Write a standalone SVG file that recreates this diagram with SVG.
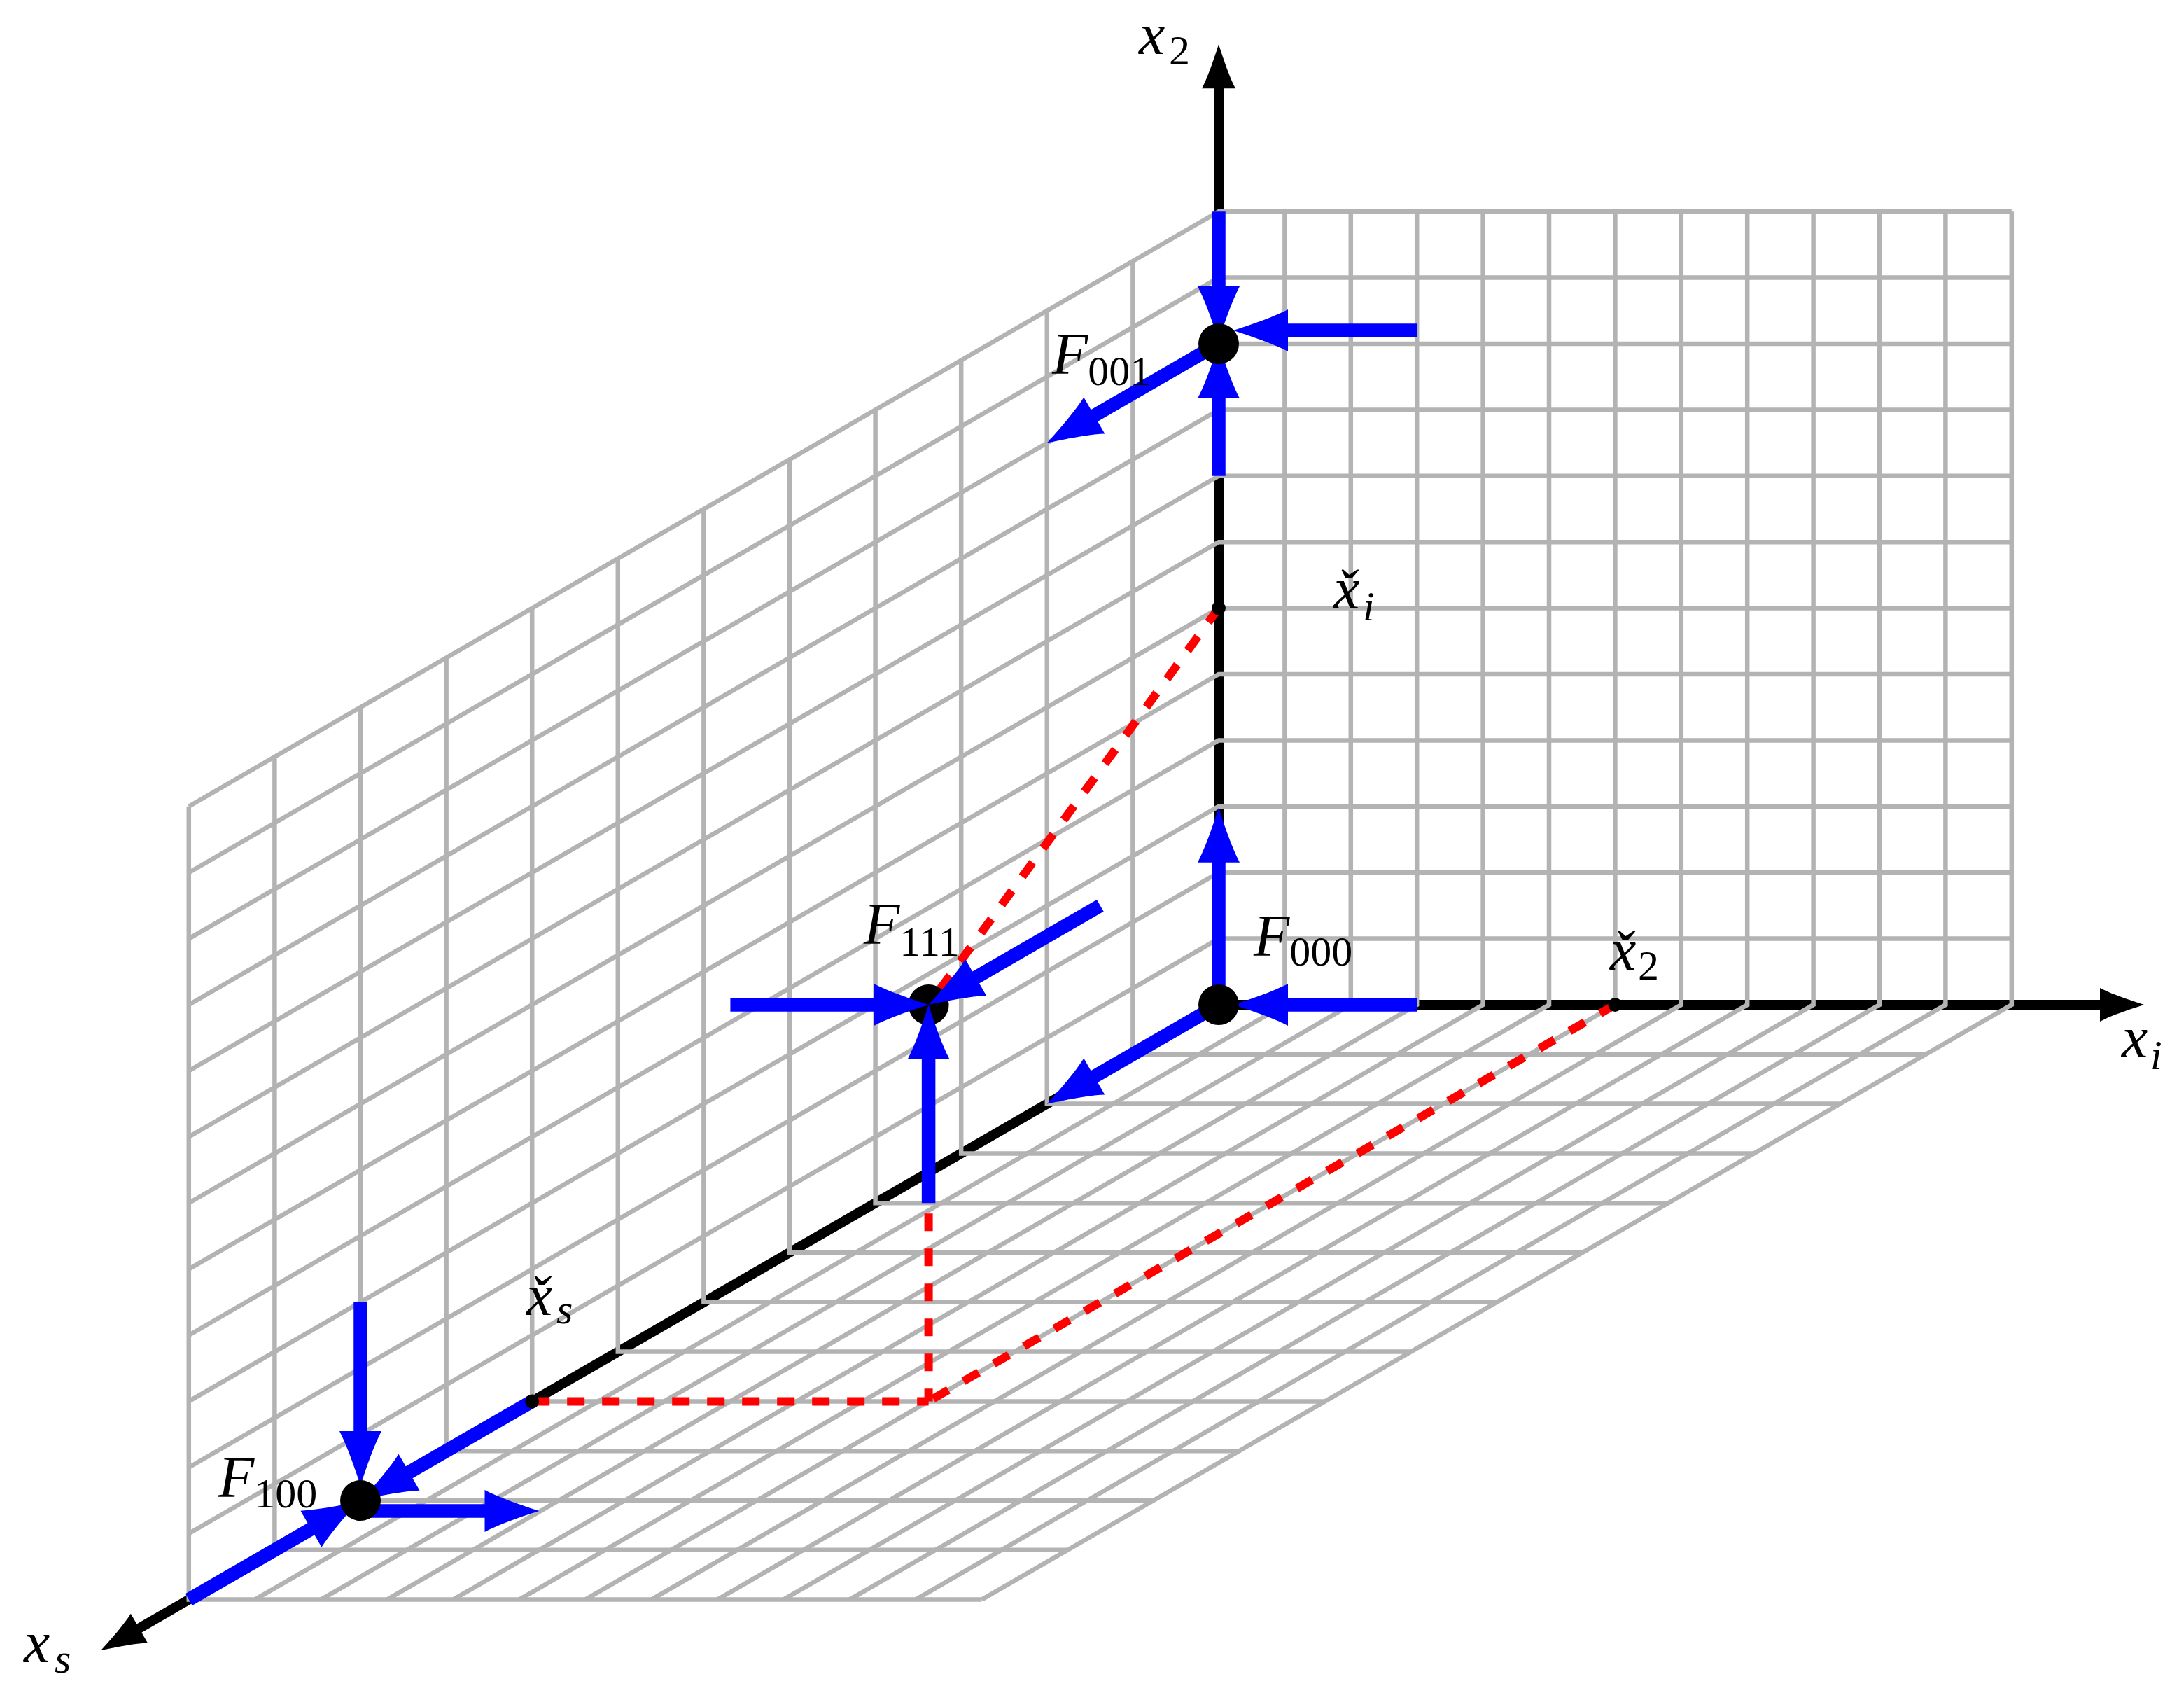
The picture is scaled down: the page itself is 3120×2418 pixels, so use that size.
<svg xmlns="http://www.w3.org/2000/svg" width="3120" height="2418" viewBox="0 0 3120 2418">
<defs>
<style>
.grid{fill:none;stroke:#b3b3b3;stroke-width:6.5}
.axis{fill:none;stroke:#000;stroke-width:14;marker-end:url(#kh)}
.guide{fill:none;stroke:#f00;stroke-width:12;stroke-dasharray:25 25}
.arr{fill:none;stroke:#00f;stroke-width:19.5;marker-end:url(#bh)}
.dot{fill:#000}
.lab{font-family:"Liberation Serif",serif;fill:#000;font-style:italic;font-size:84px}
.sub{font-style:normal;font-size:60px}
.isub{font-size:60px}
</style>
<marker id="bh" markerUnits="userSpaceOnUse" viewBox="-3 -35 90 70" markerWidth="90" markerHeight="70" refX="3" refY="0" orient="auto" overflow="visible">
<path d="M78,0 C50,9 20,19.5 0,30 L0,-30 C20,-19.5 50,-9 78,0Z" fill="#00f"/>
</marker>
<marker id="kh" markerUnits="userSpaceOnUse" viewBox="-3 -30 72 60" markerWidth="72" markerHeight="60" refX="3" refY="0" orient="auto" overflow="visible">
<path d="M63,0 C40,7.5 16,15.5 0,24 L0,-24 C16,-15.5 40,-7.5 63,0Z" fill="#000"/>
</marker>
</defs>
<rect width="3120" height="2418" fill="#fff"/>
<g id="axes">
<line class="axis" x1="1741" y1="1435" x2="3003" y2="1435"/>
<line class="axis" x1="1741" y1="1435" x2="1741" y2="123.3"/>
<line class="axis" x1="1741" y1="1435" x2="196.3" y2="2327.1"/>
<text class="lab" x="1627" y="77">x<tspan class="sub" dx="5.7" dy="15">2</tspan></text>
<text class="lab" x="3031" y="1510">x<tspan class="isub" dx="3.7" dy="17">i</tspan></text>
<text class="lab" x="34" y="2374">x<tspan class="isub" dx="6.7" dy="15">s</tspan></text>
</g>
<g id="grid">
<path class="grid" d="M1835.4 302.2V1435L364.2 2284.6M1929.8 302.2V1435L458.6 2284.6M2024.2 302.2V1435L553 2284.6M2118.6 302.2V1435L647.4 2284.6M2213 302.2V1435L741.8 2284.6M2307.4 302.2V1435L836.2 2284.6M2401.8 302.2V1435L930.6 2284.6M2496.2 302.2V1435L1025 2284.6M2590.6 302.2V1435L1119.4 2284.6M2685 302.2V1435L1213.8 2284.6M2779.4 302.2V1435L1308.2 2284.6M2873.8 302.2V1435L1402.6 2284.6"/>
<path class="grid" d="M2873.8 1340.6H1741L269.8 2190.2M2873.8 1246.2H1741L269.8 2095.8M2873.8 1151.8H1741L269.8 2001.4M2873.8 1057.4H1741L269.8 1907M2873.8 963H1741L269.8 1812.6M2873.8 868.6H1741L269.8 1718.2M2873.8 774.2H1741L269.8 1623.8M2873.8 679.8H1741L269.8 1529.4M2873.8 585.4H1741L269.8 1435M2873.8 491H1741L269.8 1340.6M2873.8 396.6H1741L269.8 1246.2M2873.8 302.2H1741L269.8 1151.8"/>
<path class="grid" d="M1618.4 373V1505.8H2751.2M1495.8 443.8V1576.6H2628.6M1373.2 514.6V1647.4H2506M1250.6 585.4V1718.2H2383.4M1128 656.2V1789H2260.8M1005.4 727V1859.8H2138.2M882.8 797.8V1930.6H2015.6M760.2 868.6V2001.4H1893M637.6 939.4V2072.2H1770.4M515 1010.2V2143H1647.8M392.4 1081V2213.8H1525.2M269.8 1151.8V2284.6H1402.6"/>
</g>
<g id="guides">
<path class="guide" d="M760.2 2001.4H1326.6"/>
<path class="guide" d="M1741 868.6L1326.6 1435V2001.4"/>
<path class="guide" d="M2307.4 1435L1326.6 2001.4"/>
</g>
<g id="F111">
<circle class="dot" cx="1326.6" cy="1435" r="29"/>
<text class="lab" x="1234" y="1348">F<tspan class="sub" dy="17">111</tspan></text>
</g>
<g id="connectors">
<path class="arr" d="M1741 302.2V412"/>
<path class="arr" d="M2024.2 472H1837"/>
<path class="arr" d="M1741 679.8V566"/>
<path class="arr" d="M1741 491L1560.75 595.1"/>
<path class="arr" d="M1741 1435V1228.7"/>
<path class="arr" d="M2024.2 1435H1837"/>
<path class="arr" d="M1741 1435L1560.75 1539.1"/>
<path class="arr" d="M1043.4 1435H1251.6"/>
<path class="arr" d="M1571.8 1293.4L1391.55 1397.5"/>
<path class="arr" d="M1326.6 1718.2V1510"/>
<path class="arr" d="M515 1859.8V2047"/>
<path class="arr" d="M760.2 2001.4L581.95 2104.3"/>
<path class="arr" d="M269.8 2284.6L447.05 2182.2"/>
<path class="arr" d="M515 2158H695.5"/>
</g>
<g id="F000">
<circle class="dot" cx="1741" cy="1435" r="29"/>
<text class="lab" x="1791" y="1365">F<tspan class="sub" dy="14">000</tspan></text>
</g>
<g id="F001">
<circle class="dot" cx="1741" cy="491" r="29"/>
<text class="lab" x="1503" y="534">F<tspan class="sub" dy="16">001</tspan></text>
</g>
<g id="F100">
<circle class="dot" cx="515" cy="2143" r="29"/>
<text class="lab" x="312" y="2138">F<tspan class="sub" dy="15">100</tspan></text>
</g>
<g id="xs-check">
<circle class="dot" cx="760.2" cy="2001.4" r="10"/>
<text class="lab" x="752" y="1878">x&#x30C;<tspan class="isub" dx="5.7" dy="12">s</tspan></text>
</g>
<g id="x2-check">
<circle class="dot" cx="2307.4" cy="1435" r="10"/>
<text class="lab" x="2300" y="1385">x&#x30C;<tspan class="sub" dx="2.7" dy="14">2</tspan></text>
</g>
<g id="xi-check">
<circle class="dot" cx="1741" cy="868.6" r="10"/>
<text class="lab" x="1905" y="869">x&#x30C;<tspan class="isub" dx="4.7" dy="17">i</tspan></text>
</g>
</svg>
